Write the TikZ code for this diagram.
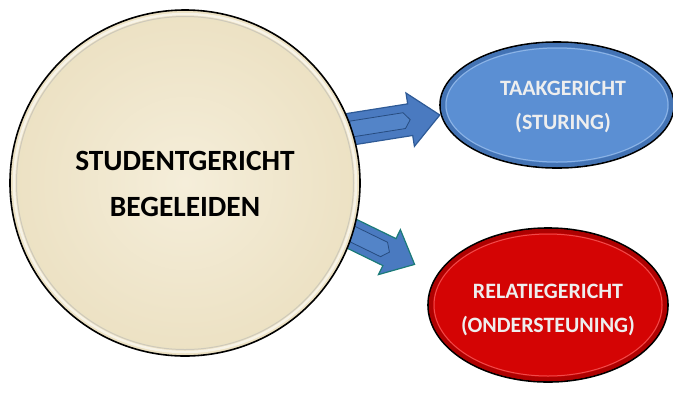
\documentclass[tikz,border=0pt]{standalone}
\usepackage{fontspec}
\setmainfont{Carlito}
\usetikzlibrary{shapes.geometric}
\definecolor{parchIn}{HTML}{F5EEDA}
\definecolor{parchOut}{HTML}{ECE1C3}
\definecolor{blueFill}{HTML}{5B8FD3}
\definecolor{blueDark}{HTML}{3A68A8}
\definecolor{blueLight}{HTML}{8DB4E6}
\definecolor{redFill}{HTML}{D40404}
\definecolor{redDark}{HTML}{9E0000}
\definecolor{redLight}{HTML}{F04A4A}
\definecolor{arrowFill}{HTML}{4A7AC0}
\definecolor{arrowEdge}{HTML}{2E5A96}
\definecolor{arrowFace}{HTML}{5384C8}
\definecolor{tealEdge}{HTML}{1B7B78}
\definecolor{lightText}{HTML}{EEEEEE}
\tikzset{
  bubble/.style={ellipse, line width=1.6bp, draw=black, inner sep=0pt},
  blockarrow/.style={fill=arrowFill, draw=arrowEdge, line width=1.2bp, line join=miter},
  bevel/.style={fill=arrowFace, draw=arrowEdge!85!black, line width=0.8bp},
  maintext/.style={font=\fontsize{29.5}{46}\selectfont\bfseries, align=center, text=black},
  sidetext/.style={font=\fontsize{22}{34}\selectfont\bfseries, align=center, text=lightText}
}
\begin{document}
\begin{tikzpicture}[x=1bp,y=-1bp]
\useasboundingbox (0,0) rectangle (673,394);
% arrow 1 (towards TAAKGERICHT)
\begin{scope}[shift={(345,130)}, rotate=9]
  \draw[blockarrow] (0,16) -- (66,16) -- (66,27) -- (96,0) -- (66,-27) -- (66,-16) -- (0,-16) -- cycle;
  \draw[bevel] (6,8) -- (60,8) -- (66,0) -- (60,-8) -- (6,-8) -- cycle;
\end{scope}
% arrow 2 (towards RELATIEGERICHT)
\begin{scope}[shift={(340,228)}, rotate=-26]
  \draw[blockarrow, draw=tealEdge] (0,15) -- (55,15) -- (55,25) -- (83,0) -- (55,-25) -- (55,-15) -- (0,-15) -- cycle;
  \draw[bevel] (6,8) -- (49,8) -- (55,0) -- (49,-8) -- (6,-8) -- cycle;
\end{scope}
% main circle
\node[bubble, minimum width=350bp, minimum height=346bp, inner color=parchIn, outer color=parchOut] (stud) at (185,183) {};
\draw[line width=2.5bp, draw=white, opacity=0.6] (185,183) ellipse [x radius=171, y radius=169];
\draw[line width=1bp, draw=black!30, opacity=0.5] (185,183) ellipse [x radius=168.5, y radius=166.5];
\node[maintext] (studt) at (185,184) {STUDENTGERICHT\\BEGELEIDEN};
% blue ellipse
\node[bubble, minimum width=234bp, minimum height=126bp, fill=blueFill] (taak) at (557,105) {};
\draw[line width=4bp, draw=blueDark, opacity=0.7] (557,105) ellipse [x radius=114, y radius=60];
\draw[line width=1bp, draw=blueLight] (557,105) ellipse [x radius=111, y radius=57];
\node[sidetext] (taakt) at (563,107) {TAAKGERICHT\\(STURING)};
% red ellipse
\node[bubble, minimum width=240bp, minimum height=154bp, fill=redFill] (rel) at (548,305) {};
\draw[line width=4bp, draw=redDark, opacity=0.7] (548,305) ellipse [x radius=117, y radius=74];
\draw[line width=1bp, draw=redLight] (548,305) ellipse [x radius=114, y radius=71];
\node[sidetext] (relt) at (548,310) {RELATIEGERICHT\\(ONDERSTEUNING)};
\end{tikzpicture}
\end{document}
